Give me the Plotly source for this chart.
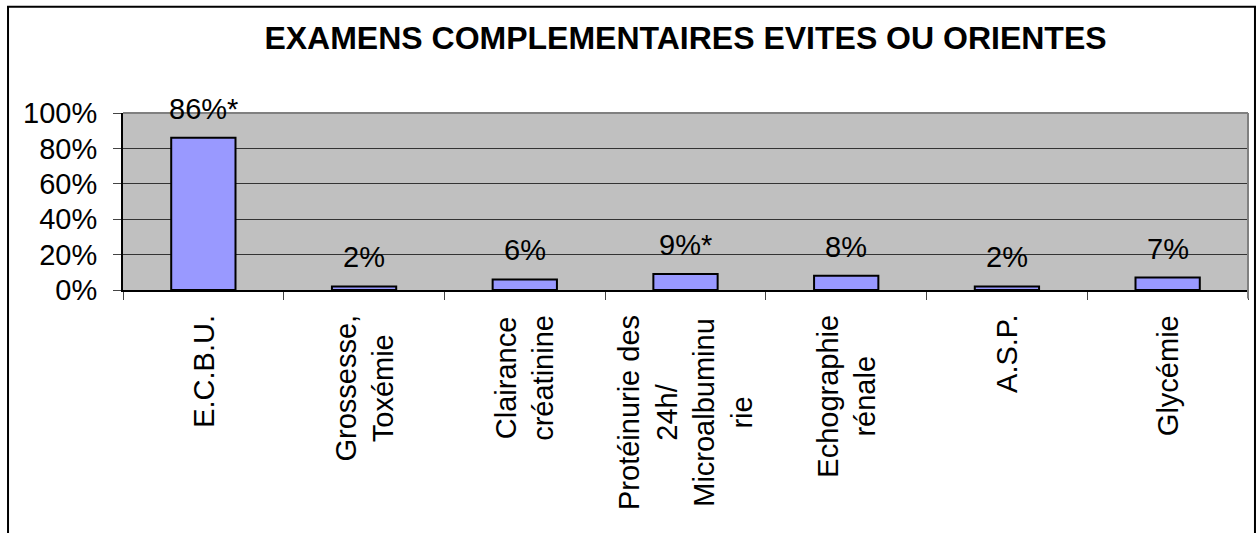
import plotly.graph_objects as go

# data
categories = ["E.C.B.U.", "Grossesse, Toxémie", "Clairance créatinine",
              "Protéinurie des 24h/ Microalbuminurie", "Echographie rénale",
              "A.S.P.", "Glycémie"]
axis_labels = ["E.C.B.U.", "Grossesse,<br>Toxémie", "Clairance<br>créatinine",
               "Protéinurie des<br>24h/<br>Microalbuminu<br>rie",
               "Echographie<br>rénale", "A.S.P.", "Glycémie"]
values = [0.86, 0.02, 0.06, 0.09, 0.08, 0.02, 0.07]
value_labels = ["86%*", "2%", "6%", "9%*", "8%", "2%", "7%"]
y_ticks = [0, 0.2, 0.4, 0.6, 0.8, 1.0]
y_ticktext = ["0%", "20%", "40%", "60%", "80%", "100%"]

FONT = "Arial, Liberation Sans, sans-serif"

fig = go.Figure()
fig.add_trace(go.Bar(
    x=categories, y=values, width=0.4,
    marker=dict(color="#9999FF", line=dict(color="black", width=2)),
    hoverinfo="skip",
))

# value labels above the bars
for cat, v, lab in zip(categories, values, value_labels):
    fig.add_annotation(x=cat, y=v, xref="x", yref="y", text=lab, showarrow=False,
                       yanchor="bottom", yshift=11, font=dict(size=29, color="black", family=FONT))

# rotated category labels, lines centred
for cat, lab in zip(categories, axis_labels):
    fig.add_annotation(x=cat, y=0, xref="x", yref="paper", text=lab, showarrow=False,
                       textangle=-90, align="center", yanchor="top", yshift=-23,
                       font=dict(size=29, color="black", family=FONT))

# plot area frame: grey top and right edges
fig.add_shape(type="line", xref="paper", yref="paper", x0=0, x1=1, y0=1, y1=1,
              line=dict(color="#808080", width=2), layer="above")
fig.add_shape(type="line", xref="paper", yref="paper", x0=1, x1=1, y0=-0.048, y1=1,
              line=dict(color="#808080", width=2), layer="above")
# outer chart border
fig.add_shape(type="rect", xref="paper", yref="paper", x0=-0.1022, x1=1.0062, y0=-1.6, y1=1.6,
              line=dict(color="black", width=2), layer="above")

fig.update_layout(
    width=1257, height=533,
    margin=dict(l=123, r=9, t=113, b=243),
    paper_bgcolor="white", plot_bgcolor="#C0C0C0",
    showlegend=False,
    font=dict(family=FONT, color="black"),
    title=dict(text="<b>EXAMENS COMPLEMENTAIRES EVITES OU ORIENTES</b>",
               x=0.5, xref="paper", xanchor="center",
               y=1 - 38 / 533, yref="container", yanchor="middle",
               font=dict(size=32, color="black", family=FONT)),
)

fig.update_xaxes(range=[-0.5, 6.5], showticklabels=False, showgrid=False, zeroline=False,
                 tickson="boundaries", ticks="outside", ticklen=8, tickcolor="#444",
                 showline=True, linecolor="black", linewidth=2)
fig.update_yaxes(range=[0, 1], tickvals=y_ticks, ticktext=y_ticktext,
                 showgrid=True, gridcolor="#333333", gridwidth=1, zeroline=False,
                 ticks="outside", ticklen=8, tickcolor="#444", ticklabelstandoff=10,
                 tickfont=dict(size=29, color="black", family=FONT),
                 showline=True, linecolor="black", linewidth=2)

# page body has a default 8px margin; drop it so the figure sits at the window corner
fig.write_html("out.html", config={"displayModeBar": False},
               post_script="document.body.style.margin='0';")
